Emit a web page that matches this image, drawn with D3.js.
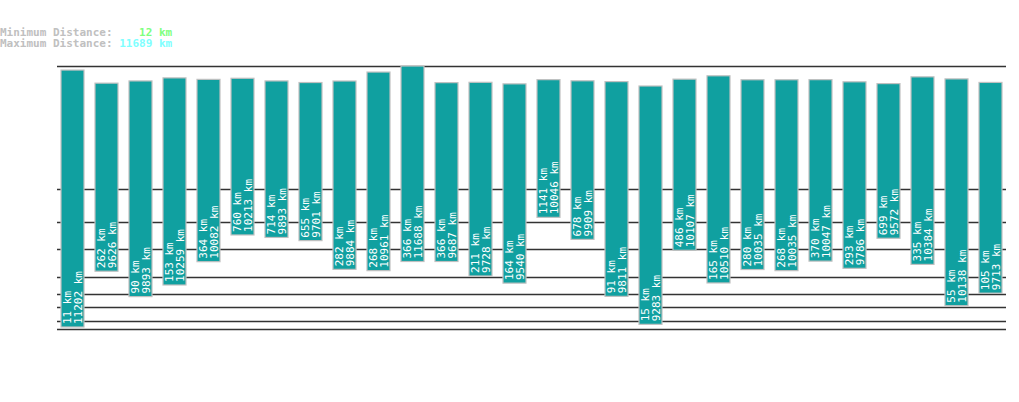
<!DOCTYPE html><html><head><meta charset="utf-8"><script src="https://d3js.org/d3.v7.min.js"></script>
<style>body{margin:0;background:#fff}</style></head><body><svg id="c" width="1019" height="402"></svg>
<script>
const minKm=[11,262,90,153,364,760,714,655,282,268,366,366,211,164,1141,678,91,15,486,165,280,268,370,293,699,335,55,105];
const maxKm=[11202,9626,9893,10259,10082,10213,9893,9701,9884,10961,11688,9687,9728,9540,10046,9909,9811,9283,10107,10510,10035,10035,10047,9786,9572,10384,10138,9713];
const gridVals=[20,50,100,200,500,1000,2000,11689];
const overallMin=12, overallMax=11689;
const svg=d3.select("#c");
const y=d3.scaleLinear().domain([0,11,20,50,100,200,500,1000,2000,9283,11689]).range([329,327,321,307,294,277,249,222,189,86,66]);
const x=d3.scaleBand().domain(d3.range(minKm.length)).range([44,996]).paddingInner(0.32).paddingOuter(0);
const xs=d3.scaleLinear().domain([0,27]).range([61,979]);
const mono="'DejaVu Sans Mono','Liberation Mono',monospace";
svg.selectAll("line.g").data(gridVals.concat([0])).join("line").attr("x1",57).attr("x2",1006)
 .attr("y1",d=>Math.round(y(d))+0.5).attr("y2",d=>Math.round(y(d))+0.5).attr("stroke","#333").attr("stroke-width",1.3);
const g=svg.selectAll("g.b").data(minKm).join("g").attr("transform",(d,i)=>`translate(${xs(i)},0)`);
g.append("rect").attr("x",0).attr("width",23).attr("y",(d,i)=>y(maxKm[i])).attr("height",(d,i)=>y(d)-y(maxKm[i]))
 .attr("fill","#10a0a0").attr("stroke","#c0c0c0").attr("stroke-width",1.2);
g.each(function(d,i){
 const yb=y(d)-3;
 const t=d3.select(this).append("text").attr("transform",`translate(0,${yb}) rotate(-90)`)
  .attr("fill","#fff").attr("font-family",mono).attr("font-size",11);
 t.append("tspan").attr("x",0).attr("y",10).text(d+" km");
 t.append("tspan").attr("x",0).attr("y",21).text(maxKm[i]+" km");
});
const h=svg.append("g").attr("font-family",mono).attr("font-size",11).attr("font-weight","bold");
const l1=h.append("text").attr("x",0).attr("y",36).attr("xml:space","preserve");
l1.append("tspan").attr("fill","#c0c0c0").text("Minimum Distance: ");
l1.append("tspan").attr("fill","#80ff80").text(String(overallMin).padStart(5," ")+" km");
const l2=h.append("text").attr("x",0).attr("y",47).attr("xml:space","preserve");
l2.append("tspan").attr("fill","#c0c0c0").text("Maximum Distance: ");
l2.append("tspan").attr("fill","#80ffff").text(String(overallMax).padStart(5," ")+" km");
</script></body></html>
